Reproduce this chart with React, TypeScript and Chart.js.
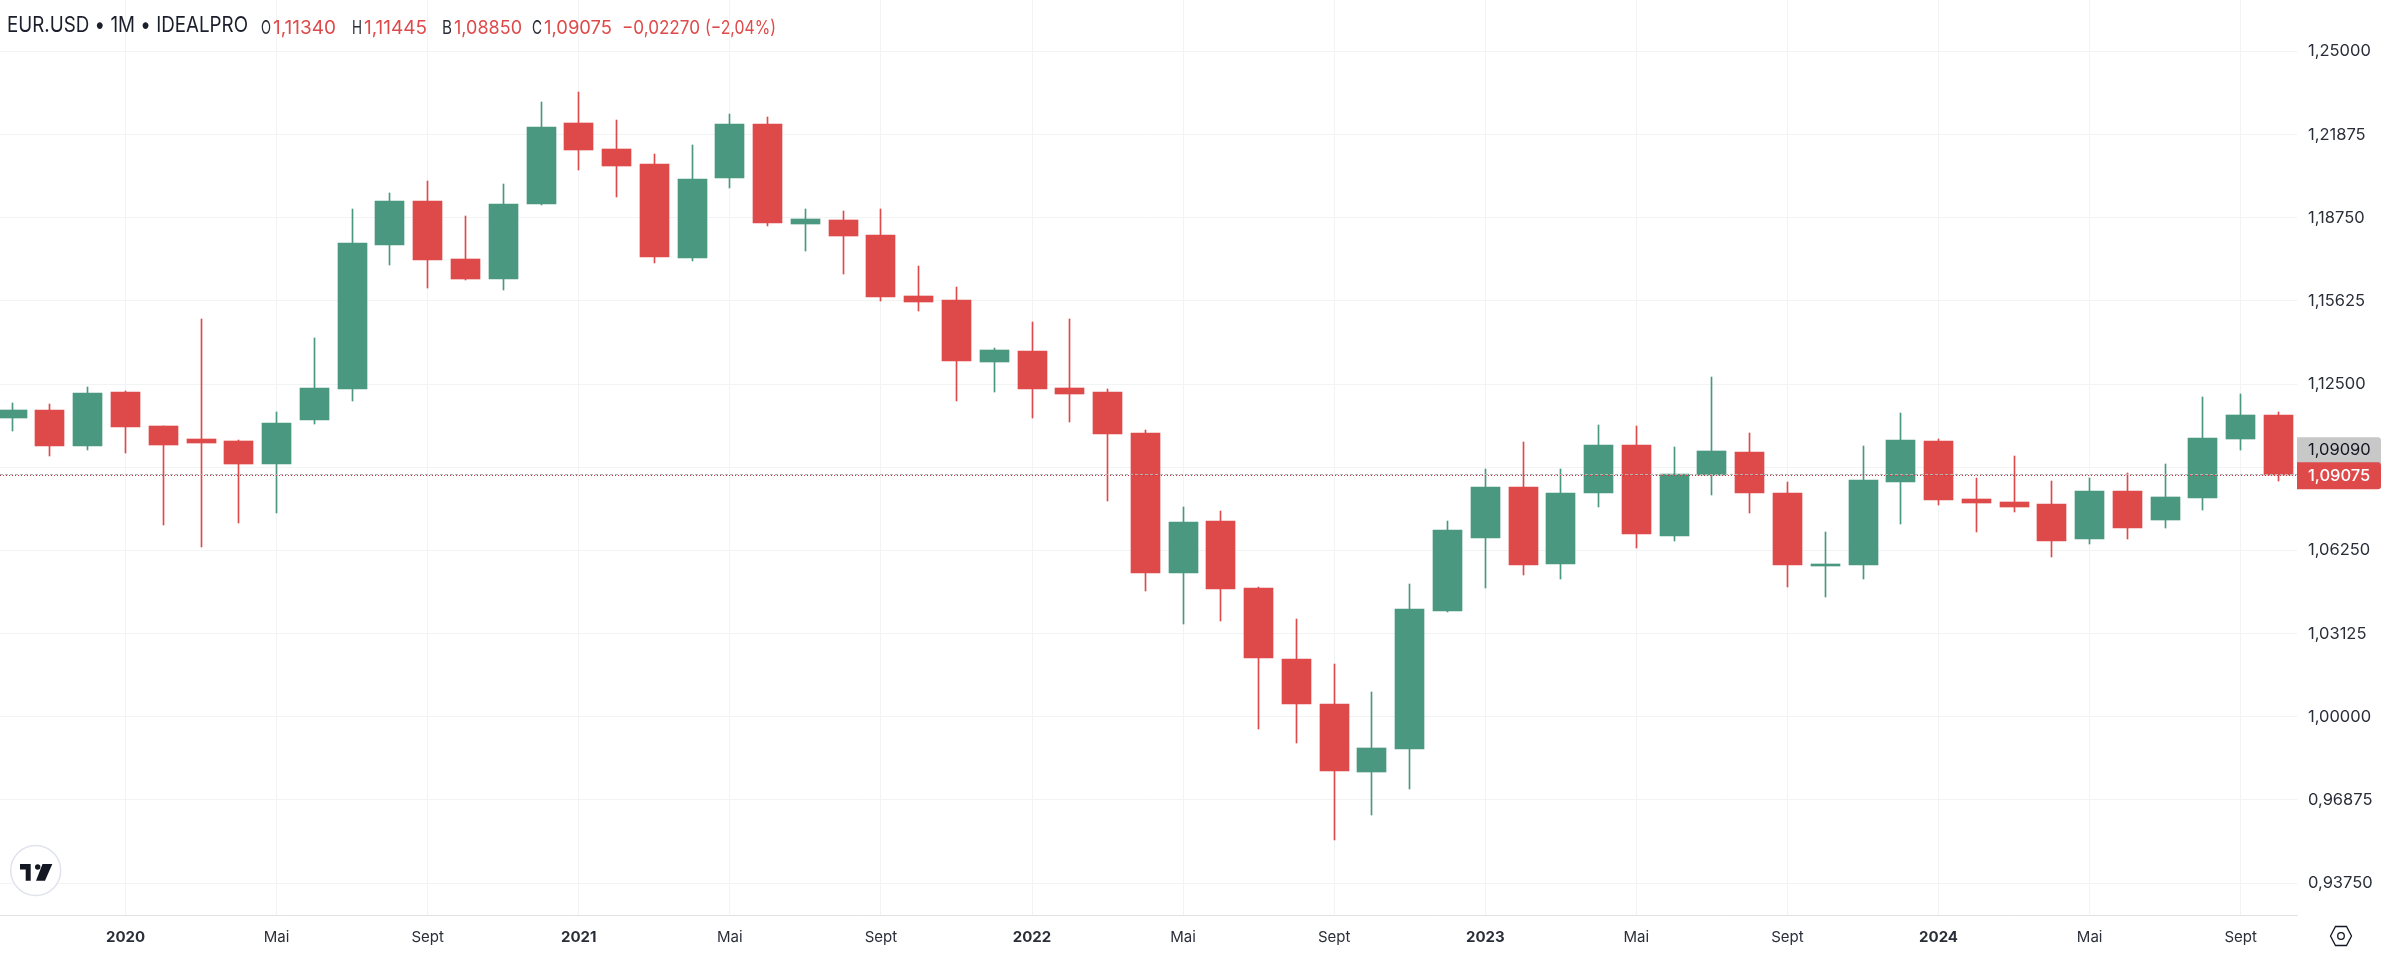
import React, { useEffect, useRef } from "react";
import { Chart, registerables } from "chart.js";

Chart.register(...registerables);

const opens = [
  1.11244, 1.11532, 1.10192, 1.12208, 1.10931, 1.10442, 1.10367, 1.09515, 1.11169, 1.12333, 1.17743, 1.19384,
  1.17205, 1.16466, 1.19283, 1.22314, 1.21337, 1.20774, 1.17255, 1.2026, 1.22276, 1.18532, 1.1867, 1.18106,
  1.15815, 1.15664, 1.13348, 1.13748, 1.12358, 1.12208, 1.10668, 1.05408, 1.07362, 1.04844, 1.02177, 1.00486,
  0.97932, 0.98796, 1.0398, 1.06723, 1.08639, 1.05746, 1.08413, 1.10217, 1.06798, 1.0909, 1.09954, 1.08413,
  1.05671, 1.05709, 1.08827, 1.10367, 1.08188, 1.08075, 1.08, 1.06685, 1.08489, 1.07399, 1.08226, 1.10442, 1.1134,
];
const closes = [
  1.11532, 1.10192, 1.1217, 1.10906, 1.10229, 1.10292, 1.09515, 1.11043, 1.12358, 1.17806, 1.19384, 1.1718,
  1.16466, 1.19271, 1.22164, 1.21312, 1.20711, 1.17292, 1.2021, 1.22276, 1.1857, 1.18707, 1.18081, 1.1579,
  1.15602, 1.13385, 1.13786, 1.12333, 1.12145, 1.10643, 1.05408, 1.07324, 1.04807, 1.02215, 1.00486, 0.97969,
  0.98833, 1.04055, 1.07023, 1.08639, 1.05709, 1.08413, 1.10217, 1.06873, 1.09127, 1.09991, 1.08413, 1.05709,
  1.05746, 1.08902, 1.10405, 1.0815, 1.08038, 1.07888, 1.0661, 1.08489, 1.07099, 1.08263, 1.1048, 1.11344, 1.09075,
];
const highs = [
  1.11795, 1.11757, 1.12396, 1.12246, 1.10931, 1.1495, 1.10405, 1.11457, 1.14237, 1.19083, 1.19684, 1.20135,
  1.1882, 1.20022, 1.23103, 1.23479, 1.22427, 1.21149, 1.21487, 1.22652, 1.22539, 1.19083, 1.19008, 1.19083,
  1.16942, 1.16153, 1.13861, 1.14838, 1.1495, 1.12321, 1.1078, 1.07888, 1.07737, 1.04882, 1.0368, 1.01989,
  1.00937, 1.04995, 1.07362, 1.09315, 1.10329, 1.09315, 1.10968, 1.10931, 1.10142, 1.12771, 1.10667, 1.08827,
  1.06948, 1.10179, 1.11419, 1.10442, 1.08977, 1.09804, 1.08864, 1.08977, 1.09165, 1.09503, 1.1202, 1.12133, 1.11445,
];
const lows = [
  1.10743, 1.09816, 1.10041, 1.09929, 1.07211, 1.06385, 1.07286, 1.07662, 1.11018, 1.11882, 1.16979, 1.16128,
  1.16428, 1.16052, 1.19246, 1.20561, 1.19546, 1.17067, 1.17142, 1.19885, 1.18457, 1.17518, 1.16654, 1.15639,
  1.15264, 1.11882, 1.1222, 1.11244, 1.11093, 1.08088, 1.04732, 1.03492, 1.03605, 0.99547, 0.99021, 0.95377,
  0.96316, 0.97293, 1.03943, 1.04844, 1.05333, 1.05183, 1.07888, 1.06347, 1.0661, 1.08338, 1.07662, 1.04882,
  1.04506, 1.05183, 1.07249, 1.07963, 1.06948, 1.077, 1.06009, 1.06497, 1.06685, 1.07099, 1.07775, 1.10029, 1.0885,
];

const timeTickPositions = [3, 7, 11, 15, 19, 23, 27, 31, 35, 39, 43, 47, 51, 55, 59];
const timeTickLabels = ["2020", "Mai", "Sept", "2021", "Mai", "Sept", "2022", "Mai", "Sept", "2023", "Mai", "Sept", "2024", "Mai", "Sept"];
const priceTicks = [1.25, 1.21875, 1.1875, 1.15625, 1.125, 1.09375, 1.0625, 1.03125, 1.0, 0.96875, 0.9375];

const lastPrice = 1.09075;
const referencePrice = 1.0909;
const symbolTitle = "EUR.USD • 1M • IDEALPRO";
const ohlcLetters = ["O", "H", "B", "C"];
const ohlcValues = ["1,11340", "1,11445", "1,08850", "1,09075"];
const changeText = "−0,02270";
const changePercentText = "(−2,04%)";

const UP = "#4A9880";
const DOWN = "#DE4A4A";
const INK = "#2A2E39";
const GRID = "#F2F3F4";
const FONT = "Inter, 'Noto Sans', sans-serif";
const X_MIN = -0.323;
const X_MAX = 60.49;
const Y_MIN = 0.92548;
const Y_MAX = 1.26935;

const fmt = (v: number) => v.toFixed(5).replace(".", ",");

const snapPlugin = {
  id: "snap",
  afterDatasetsUpdate(chart: any) {
    chart.data.datasets.forEach((ds: any, i: number) => {
      const meta = chart.getDatasetMeta(i);
      meta.data.forEach((el: any) => {
        if (ds.type === "line") {
          el.y = Math.floor(el.y) + 0.5;
        } else {
          el.x = Math.floor(el.x) + 0.5;
          el.y = Math.round(el.y);
          el.base = Math.round(el.base);
        }
      });
    });
  },
};

const overlayPlugin = {
  id: "overlay",
  afterDraw(chart: any) {
    const { ctx, scales } = chart;
    ctx.save();

    // Header
    ctx.textAlign = "left";
    ctx.textBaseline = "alphabetic";
    ctx.font = `400 22px ${FONT}`;
    ctx.fillStyle = "#1B1F2B";
    ctx.fillText(symbolTitle, 7, 32, 241);

    ctx.font = `400 19px ${FONT}`;
    const letterX = [261, 352, 442, 532];
    const valueX = [273, 364, 454, 544];
    ohlcLetters.forEach((l, i) => {
      ctx.fillStyle = INK;
      ctx.fillText(l, letterX[i], 34, 10);
      ctx.fillStyle = DOWN;
      ctx.fillText(ohlcValues[i], valueX[i], 34, 68);
    });
    ctx.fillStyle = DOWN;
    ctx.fillText(changeText, 622, 34, 78);
    ctx.fillText(changePercentText, 705, 34, 71);

    // Price labels
    const redY = scales.y.getPixelForValue(lastPrice);
    const left = 2297;
    const width = 84;
    ctx.fillStyle = "#C8C8C8";
    ctx.beginPath();
    ctx.roundRect(left, redY - 38, width, 26, [0, 3, 0, 0]);
    ctx.fill();
    ctx.fillStyle = DOWN;
    ctx.beginPath();
    ctx.roundRect(left, redY - 13, width, 27, [0, 3, 3, 0]);
    ctx.fill();
    ctx.textBaseline = "middle";
    ctx.font = `400 16.5px ${FONT}`;
    ctx.fillStyle = "#131722";
    ctx.fillText(fmt(referencePrice), 2308, redY - 25);
    ctx.font = `500 16.5px ${FONT}`;
    ctx.fillStyle = "#FFFFFF";
    ctx.fillText(fmt(lastPrice), 2308, redY + 0.5);

    // Logo badge
    ctx.beginPath();
    ctx.arc(35.7, 870.5, 25, 0, Math.PI * 2);
    ctx.fillStyle = "#FFFFFF";
    ctx.fill();
    ctx.lineWidth = 1.5;
    ctx.strokeStyle = "#E0E3EB";
    ctx.stroke();
    ctx.fillStyle = "#131722";
    const poly = (pts: number[][]) => {
      ctx.beginPath();
      pts.forEach(([px, py], i) => (i ? ctx.lineTo(px, py) : ctx.moveTo(px, py)));
      ctx.closePath();
      ctx.fill();
    };
    poly([[20, 864], [30.7, 864], [30.7, 880.7], [25.7, 880.7], [25.7, 869.5], [20, 869.5]]);
    poly([[42.5, 864], [52.3, 864], [45, 880.7], [36, 880.7]]);
    ctx.beginPath();
    ctx.arc(37.7, 867, 2.7, 0, Math.PI * 2);
    ctx.fill();

    // Settings hexagon
    const cx = 2341;
    const cy = 936;
    ctx.strokeStyle = "#131722";
    ctx.lineWidth = 1.3;
    ctx.beginPath();
    [[-10.5, 0], [-5.5, -9.5], [5.5, -9.5], [10.5, 0], [5.5, 9.5], [-5.5, 9.5]].forEach(([dx, dy], i) =>
      i ? ctx.lineTo(cx + dx, cy + dy) : ctx.moveTo(cx + dx, cy + dy)
    );
    ctx.closePath();
    ctx.stroke();
    ctx.beginPath();
    ctx.arc(cx, cy, 3.3, 0, Math.PI * 2);
    ctx.stroke();

    ctx.restore();
  },
};

const zeroPadding = (s: any) => {
  s.paddingTop = 0;
  s.paddingBottom = 0;
  s.paddingLeft = 0;
  s.paddingRight = 0;
};

export default function App() {
  const ref = useRef<HTMLCanvasElement>(null);

  useEffect(() => {
    const candleColors = closes.map((c, i) => (c >= opens[i] ? UP : DOWN));
    const constLine = (v: number) => [
      { x: X_MIN, y: v },
      { x: X_MAX, y: v },
    ];
    const chart = new Chart(ref.current as HTMLCanvasElement, {
      type: "bar",
      data: {
        datasets: [
          {
            type: "line",
            label: "Reference",
            data: constLine(referencePrice),
            borderColor: "#B4B4B4",
            borderWidth: 1,
            borderDash: [3, 2],
            pointRadius: 0,
            order: 1,
          },
          {
            type: "line",
            label: "Last",
            data: constLine(lastPrice),
            borderColor: "#D8303A",
            borderWidth: 1,
            borderDash: [1, 2],
            pointRadius: 0,
            order: 0,
          },
          {
            type: "bar",
            label: "Body",
            data: opens.map((o, i) => ({ x: i, y: [o, closes[i]] })),
            backgroundColor: candleColors,
            barThickness: 29,
            grouped: false,
            order: 2,
          },
          {
            type: "bar",
            label: "Wick",
            data: lows.map((l, i) => ({ x: i, y: [l, highs[i]] })),
            backgroundColor: candleColors,
            barThickness: 1,
            grouped: false,
            order: 3,
          },
        ],
      } as any,
      options: {
        responsive: false,
        animation: false,
        layout: { padding: 0, autoPadding: false },
        plugins: { legend: { display: false }, title: { display: false }, tooltip: { enabled: false } },
        scales: {
          x: {
            type: "linear",
            offset: false,
            min: X_MIN,
            max: X_MAX,
            afterBuildTicks: (s: any) => {
              s.ticks = timeTickPositions.map((value) => ({ value }));
            },
            afterFit: (s: any) => {
              s.height = 39;
              zeroPadding(s);
            },
            grid: { color: GRID, offset: false, drawTicks: false },
            border: { color: "#E0E3E6", width: 1 },
            ticks: {
              autoSkip: false,
              maxRotation: 0,
              padding: 13,
              color: INK,
              font: (ctx: any) => {
                const idx = timeTickPositions.indexOf(ctx.tick?.value);
                const isYear = /^\d/.test(timeTickLabels[idx] ?? "");
                return { family: FONT, size: 15, weight: isYear ? "700" : "400" };
              },
              callback: (v: any) => timeTickLabels[timeTickPositions.indexOf(Number(v))] ?? "",
            },
          },
          y: {
            type: "linear",
            position: "right",
            min: Y_MIN,
            max: Y_MAX,
            afterBuildTicks: (s: any) => {
              s.ticks = priceTicks.map((value) => ({ value }));
            },
            afterFit: (s: any) => {
              s.width = 86;
              zeroPadding(s);
            },
            grid: { color: GRID, drawTicks: false },
            border: { display: false },
            ticks: {
              padding: 11,
              color: INK,
              autoSkip: false,
              font: { family: FONT, size: 16.5 },
              callback: (v: any) => fmt(Number(v)),
            },
          },
        },
      } as any,
      plugins: [snapPlugin, overlayPlugin],
    } as any);
    return () => chart.destroy();
  }, []);

  return (
    <div style={{ position: "absolute", left: 0, top: 0, width: 2383, height: 954, background: "#FFFFFF", overflow: "hidden" }}>
      <canvas ref={ref} width={2383} height={954} style={{ display: "block" }} />
    </div>
  );
}
